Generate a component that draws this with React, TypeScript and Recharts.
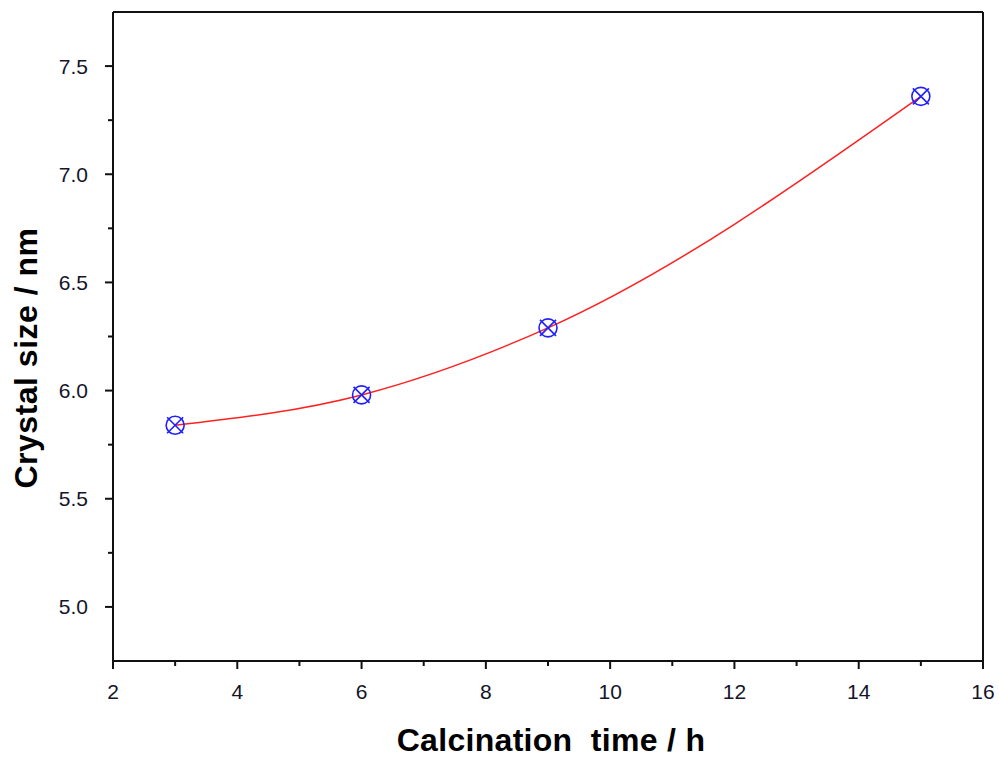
import { LineChart, Line, XAxis, YAxis, Label, ReferenceLine } from 'recharts';

// calcination time (h) and crystal size (nm)
const times = [3, 6, 9, 15];
const sizes = [5.84, 5.98, 6.29, 7.36];

const xTicks = [2, 3, 4, 5, 6, 7, 8, 9, 10, 11, 12, 13, 14, 15, 16];
const yTicks = [4.75, 5.0, 5.25, 5.5, 5.75, 6.0, 6.25, 6.5, 6.75, 7.0, 7.25, 7.5, 7.75];

const data = times.map((t, i) => ({ t, size: sizes[i] }));

const font = 'Arial, "Liberation Sans", sans-serif';

// ticks point outward; every other one is a minor tick without label
function XTick(props: any) {
  const { x, y, payload } = props;
  const major = payload.value % 2 === 0;
  return (
    <g>
      <line x1={x} y1={y} x2={x} y2={y + (major ? 8 : 5)} stroke="#111" strokeWidth={2} />
      {major && (
        <text x={x} y={y + 38} textAnchor="middle" fontSize={21} fontFamily={font} fill="#14142a">
          {payload.value}
        </text>
      )}
    </g>
  );
}

function YTick(props: any) {
  const { x, y, payload } = props;
  const v = payload.value;
  const major = Math.abs((v * 2) % 1) < 1e-6;
  if (v === 4.75 || v === 7.75) return <g />;
  return (
    <g>
      <line x1={x} y1={y} x2={x - (major ? 8 : 5)} y2={y} stroke="#111" strokeWidth={2} />
      {major && (
        <text x={x - 25} y={y + 7.5} textAnchor="end" fontSize={21} fontFamily={font} fill="#14142a">
          {v.toFixed(1)}
        </text>
      )}
    </g>
  );
}

function CrossCircle(props: any) {
  const { cx, cy } = props;
  if (cx == null || cy == null) return <g />;
  const r = 9;
  const d = 8;
  return (
    <g stroke="#2020ff" strokeWidth={1.6} fill="none">
      <circle cx={cx} cy={cy} r={r} />
      <line x1={cx - d} y1={cy - d} x2={cx + d} y2={cy + d} />
      <line x1={cx - d} y1={cy + d} x2={cx + d} y2={cy - d} />
    </g>
  );
}

const titleStyle = { fontSize: 32, fontWeight: 700, fontFamily: font, fill: '#000' };

export default function App() {
  return (
    <div style={{ position: 'absolute', left: 0, top: 0, background: '#fff' }}>
      <LineChart width={999} height={758} data={data} margin={{ top: 12, right: 16, left: 0, bottom: 0 }}>
        <XAxis
          dataKey="t"
          type="number"
          domain={[2, 16]}
          ticks={xTicks}
          interval={0}
          tick={<XTick />}
          tickSize={0}
          tickMargin={0}
          tickLine={false}
          axisLine={{ stroke: '#111', strokeWidth: 2 }}
          height={97}
        >
          <Label
            content={() => (
              <text x={551} y={751} textAnchor="middle" style={{ ...titleStyle, letterSpacing: 0.3 }}>
                {'Calcination\u00a0\u00a0time / h'}
              </text>
            )}
          />
        </XAxis>
        <YAxis
          type="number"
          domain={[4.75, 7.75]}
          ticks={yTicks}
          interval={0}
          tick={<YTick />}
          tickSize={0}
          tickMargin={0}
          tickLine={false}
          axisLine={{ stroke: '#111', strokeWidth: 2 }}
          width={113}
        >
          <Label
            content={() => (
              <text
                x={0}
                y={0}
                transform="translate(37,358) rotate(-90)"
                textAnchor="middle"
                style={{ ...titleStyle, letterSpacing: 0.5 }}
              >
                Crystal size / nm
              </text>
            )}
          />
        </YAxis>
        <ReferenceLine y={7.75} stroke="#111" strokeWidth={2} />
        <ReferenceLine x={16} stroke="#111" strokeWidth={2} />
        <Line
          dataKey="size"
          type="monotone"
          stroke="#ff2020"
          strokeWidth={1.5}
          dot={<CrossCircle />}
          activeDot={false}
          isAnimationActive={false}
        />
      </LineChart>
    </div>
  );
}
